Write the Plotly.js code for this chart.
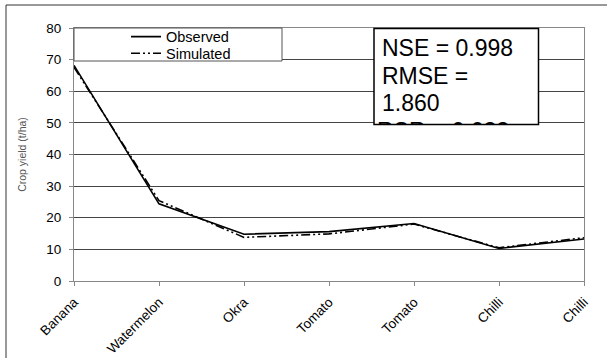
<!DOCTYPE html>
<html>
<head>
<meta charset="utf-8">
<script src="https://cdn.plot.ly/plotly-3.0.1.min.js"></script>
<style>
html,body{margin:0;padding:0;background:#fff;}
#chart{width:612px;height:358px;}
</style>
</head>
<body>
<div id="chart"></div>
<script>
var categories = ["Banana", "Watermelon", "Okra", "Tomato", "Tomato", "Chilli", "Chilli"];
var observed = [68.2, 24.4, 14.8, 15.6, 18.2, 10.3, 13.3];
var simulated = [67.6, 25.4, 13.8, 14.9, 18.0, 10.5, 13.7];
var statsLines = ["NSE = 0.998", "RMSE =", "1.860"];
var statsCutText = "RSR = 0.033";
var yTitle = "Crop yield (t/ha)";

var xIdx = categories.map(function(_, i){ return i; });

var traces = [
  {x: xIdx, y: observed, name: "Observed", type: "scatter", mode: "lines",
   legend: "legend",
   line: {color: "#000", width: 1.6}},
  {x: xIdx, y: simulated, name: "Simulated", type: "scatter", mode: "lines",
   legend: "legend2",
   line: {color: "#000", width: 1.6, dash: "9px,3px,2px,3px,2px,3px"}}
];

var fontFam = "Liberation Sans, Arial, sans-serif";
// plot area in pixels: x 74..584, y 28..281
function py(pix){ return (281 - pix) / 253; }
function px(pix){ return (pix - 74) / 510; }

var legendFont = {size: 14.5, family: fontFam, color: "#000"};
var annotations = statsLines.map(function(t, i){
  var centers = [48.3, 76.7, 103.3];
  return {xref: "paper", yref: "paper", x: px(380.5), y: py(centers[i] - 0.3),
          xanchor: "left", yanchor: "middle", text: t, showarrow: false,
          borderpad: 0, font: {size: 23, family: fontFam, color: "#000"}};
});
annotations.push({xref: "paper", yref: "paper", x: px(376.5), y: py(118.3), xanchor: "left", yanchor: "top",
  text: statsCutText, showarrow: false, align: "left", valign: "top",
  width: 155, height: 6, borderpad: 0,
  bgcolor: "rgba(0,0,0,0)", borderwidth: 0,
  font: {size: 23, family: fontFam, color: "#000"}});

var layout = {
  width: 612, height: 358,
  margin: {l: 74, r: 28, t: 28, b: 77},
  paper_bgcolor: "#fff", plot_bgcolor: "#fff",
  font: {family: fontFam, color: "#000"},
  showlegend: true,
  legend: {x: px(126), y: py(36.7), xanchor: "left", yanchor: "middle",
           bgcolor: "rgba(0,0,0,0)", borderwidth: 0, font: legendFont, itemwidth: 30},
  legend2: {x: px(126), y: py(53.3), xanchor: "left", yanchor: "middle",
           bgcolor: "rgba(0,0,0,0)", borderwidth: 0, font: legendFont, itemwidth: 30},
  xaxis: {
    tickmode: "array", tickvals: xIdx, ticktext: categories,
    range: [0, categories.length - 1],
    tickangle: -45, tickfont: {size: 13.5, family: fontFam, color: "#000"},
    showgrid: false, zeroline: false,
    showline: true, linecolor: "#888", linewidth: 1, mirror: true,
    ticks: "outside", ticklen: 4, tickcolor: "#888", ticklabelstandoff: 3
  },
  yaxis: {
    range: [0, 80], dtick: 10, tick0: 0,
    tickfont: {size: 13.5, family: fontFam, color: "#000"},
    showgrid: true, gridcolor: "#444", gridwidth: 1, zeroline: false,
    showline: true, linecolor: "#888", linewidth: 1, mirror: true,
    ticks: "outside", ticklen: 4, tickcolor: "#888", ticklabelstandoff: 5,
    title: {text: yTitle, font: {size: 10.5, family: fontFam, color: "#555"}, standoff: 17}
  },
  shapes: [
    {type: "line", xref: "paper", yref: "paper", x0: px(6), x1: px(6), y0: py(5), y1: py(360),
     line: {color: "#333", width: 1}},
    {type: "line", xref: "paper", yref: "paper", x0: px(6), x1: px(607), y0: py(5), y1: py(5),
     line: {color: "#333", width: 1}},
    {type: "rect", xref: "paper", yref: "paper", x0: 0, x1: px(282), y0: 1, y1: py(61),
     fillcolor: "#fff", line: {color: "#555", width: 1}, layer: "above"},
    {type: "rect", xref: "paper", yref: "paper", x0: px(374), x1: px(538.5), y0: py(28.5), y1: py(124.5),
     fillcolor: "#fff", line: {color: "#000", width: 1.5}, layer: "above"}
  ],
  annotations: annotations
};

Plotly.newPlot("chart", traces, layout, {displayModeBar: false, staticPlot: true});
</script>
</body>
</html>
